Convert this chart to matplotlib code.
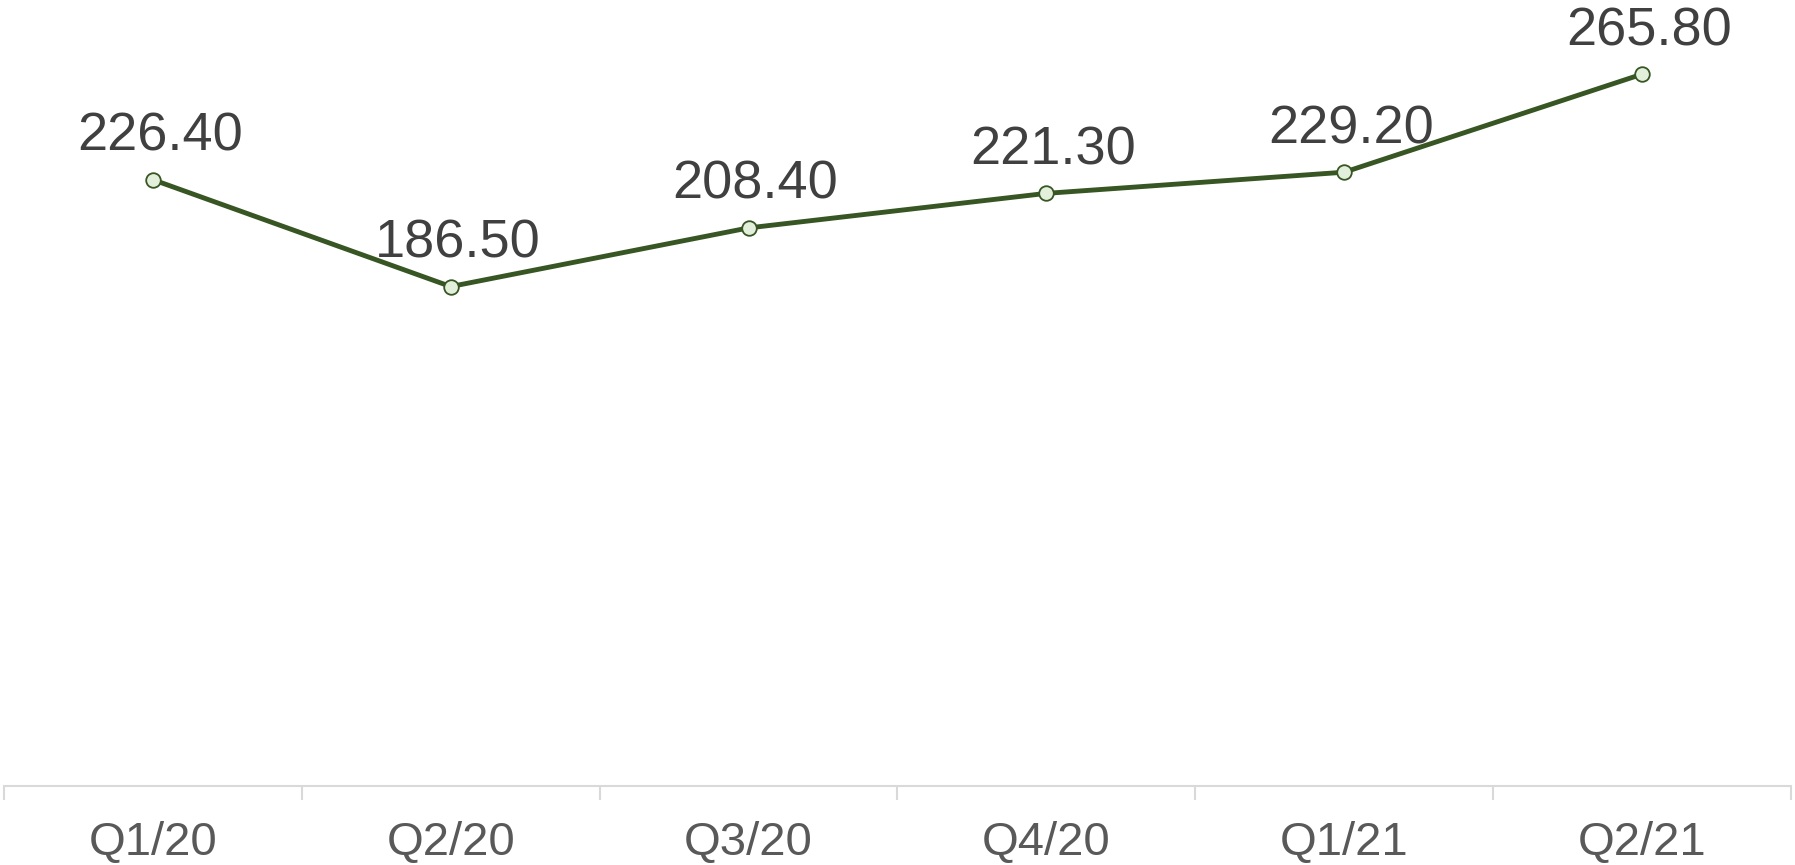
import matplotlib
matplotlib.use("Agg")
import matplotlib.pyplot as plt

categories = ["Q1/20", "Q2/20", "Q3/20", "Q4/20", "Q1/21", "Q2/21"]
values = [226.40, 186.50, 208.40, 221.30, 229.20, 265.80]

plt.rcParams['font.family'] = ['Liberation Sans', 'DejaVu Sans']

W, H = 1795, 865
fig = plt.figure(figsize=(W / 100, H / 100), dpi=100)
ax = fig.add_axes([4 / W, 1 - 786 / H, (1791 - 4) / W, 786 / H])

x = list(range(len(categories)))
ax.plot(x, values, color="#375623", lw=3.5, marker="o", markersize=10.5,
        markerfacecolor="#E2EFDA", markeredgecolor="#375623", markeredgewidth=1.3,
        solid_capstyle="round", zorder=3)

for xi, v in zip(x, values):
    ax.annotate(f"{v:.2f}", (xi, v), xytext=(5, 21), textcoords="offset points",
                ha="center", va="baseline", fontsize=39, color="#404040")

ax.set_xlim(-0.5, len(categories) - 0.5)
ax.set_ylim(0, 293.5)
ax.set_yticks([])
for s in ["top", "right", "left"]:
    ax.spines[s].set_visible(False)
ax.spines["bottom"].set_color("#D9D9D9")
ax.spines["bottom"].set_linewidth(1.5)

ax.set_xticks(x)
ax.set_xticklabels(categories, fontsize=34, color="#595959")
ax.tick_params(axis="x", which="major", length=0, pad=25)
ax.set_xticks([i - 0.5 for i in range(len(categories) + 1)], minor=True)
ax.tick_params(axis="x", which="minor", length=10, width=1.5, color="#D9D9D9")

fig.savefig("out.png", dpi=100)
